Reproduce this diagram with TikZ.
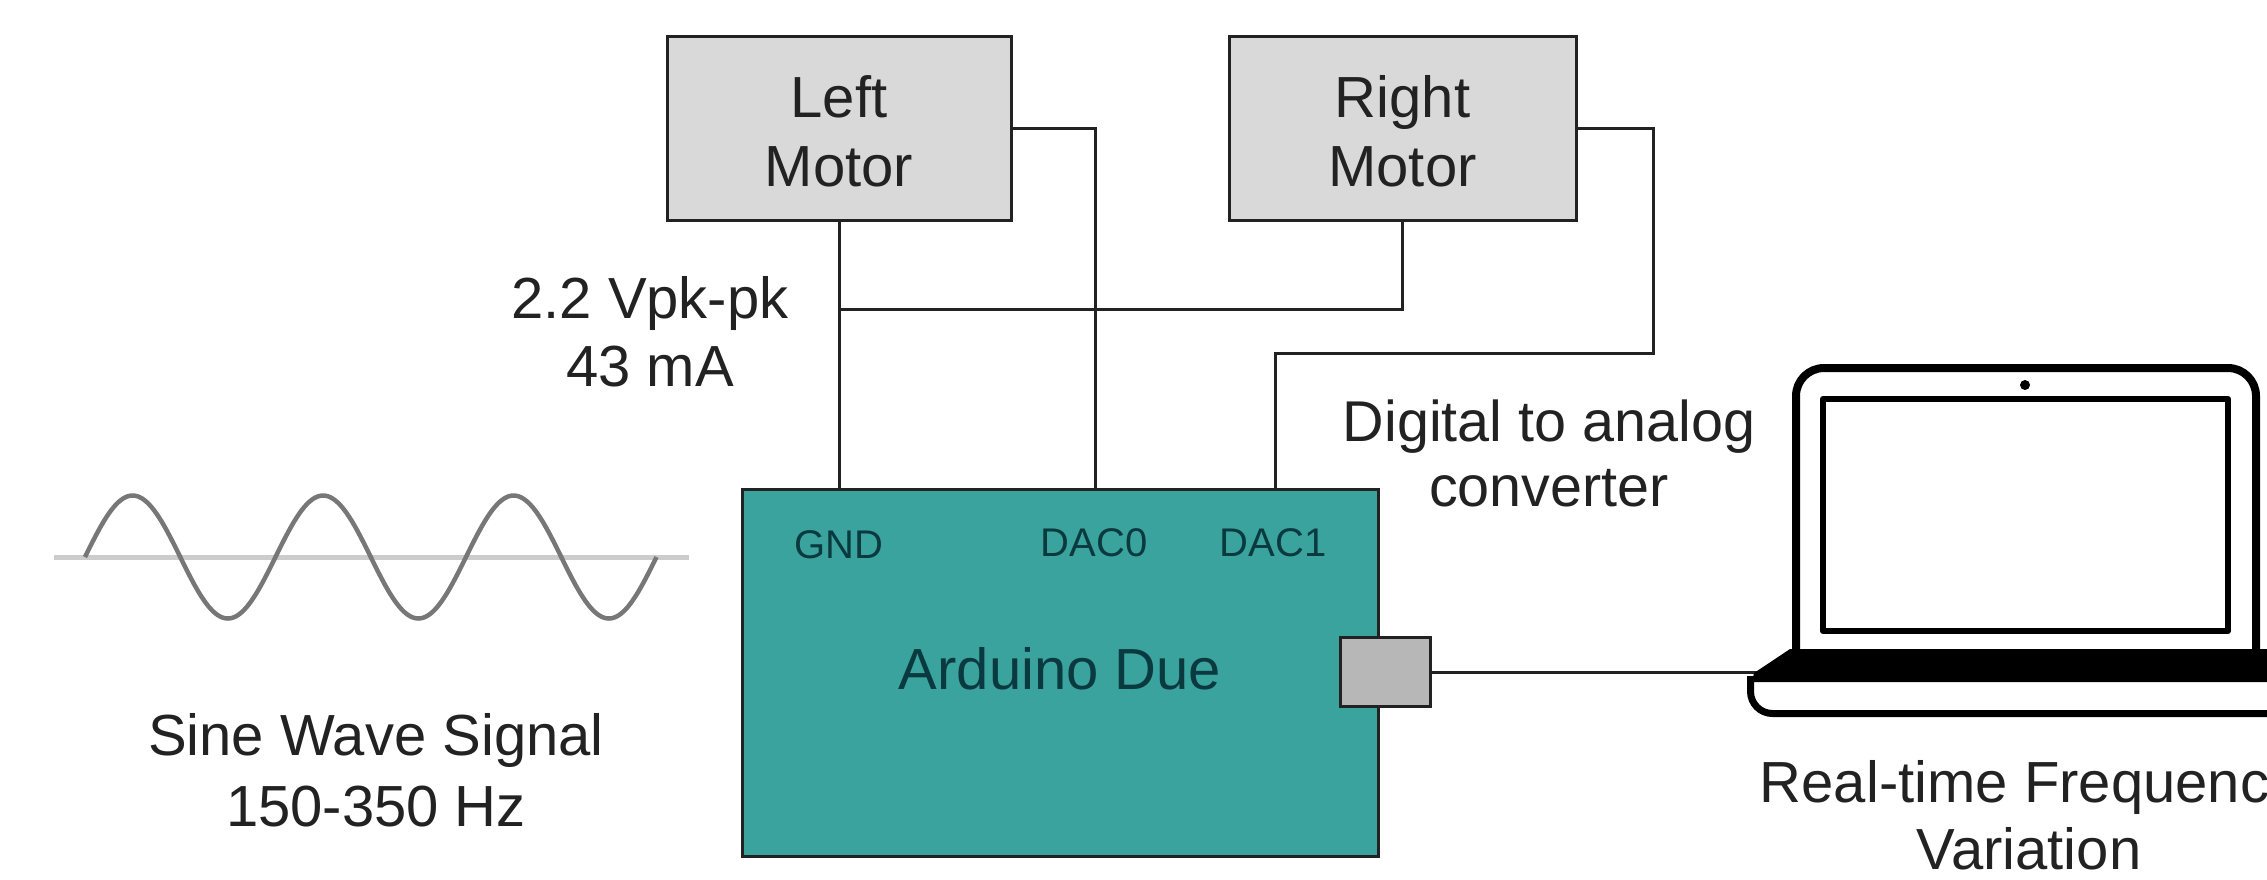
\documentclass[tikz,border=0pt]{standalone}
\usepackage{fontspec}
\setmainfont{Liberation Sans}
\definecolor{teal1}{HTML}{3AA39D}
\definecolor{motorgray}{HTML}{D9D9D9}
\definecolor{usbgray}{HTML}{B7B7B7}
\definecolor{inktext}{HTML}{222222}
\definecolor{pintext}{HTML}{0A3A40}
\definecolor{wavegray}{HTML}{777777}
\definecolor{axisgray}{HTML}{CCCCCC}
\tikzset{
  boxbase/.style={draw=inktext,line width=3pt,inner sep=0pt,align=center,text=inktext},
  motorbox/.style={boxbase,fill=motorgray,minimum height=184pt,font=\fontsize{58}{69}\selectfont,text=inktext},
  lbl/.style={inner sep=0pt,align=center,text=inktext,anchor=center},
  wire/.style={draw=inktext,line width=3pt},
  pin/.style={inner sep=0pt,text=pintext,font=\fontsize{40}{48}\selectfont,anchor=base},
  lapline/.style={draw=black,line join=round}
}
\begin{document}
\begin{tikzpicture}[x=1pt,y=-1pt]
\useasboundingbox (0,0) rectangle (2267,879);
\clip (0,0) rectangle (2267,879);
% wave
\draw[axisgray,line width=5pt] (54,557) -- (689,557);
\draw[wavegray,line width=4.5pt,line join=round] plot[smooth,domain=0:1080,samples=121] ({85+\x/360*190.5},{557-61.5*sin(\x)});
\node[lbl,font=\fontsize{58}{71}\selectfont] (sinelabel) at (376,770) {Sine Wave Signal\\150-350 Hz};
% boxes
\node[motorbox,minimum width=344pt] (lm) at (839,128) {\rule{0pt}{48pt}Left\\Motor};
\node[motorbox,minimum width=347pt] (rm) at (1402.5,128) {\rule{0pt}{48pt}Right\\Motor};
\node[boxbase,fill=teal1,minimum width=636pt,minimum height=367pt] (ard) at (1060,672.5) {};
\node[inner sep=0pt,text=pintext,font=\fontsize{58}{68}\selectfont,anchor=base] (ardlabel) at (1060,689) {Arduino Due};
\node[pin] (gnd) at (839,558) {GND};
\node[pin] (dac0) at (1094,556) {DAC0};
\node[pin] (dac1) at (1273,556) {DAC1};
\node[boxbase,fill=usbgray,minimum width=90pt,minimum height=69pt] (usb) at (1385,672) {};
% named connector ends
\coordinate (pgnd) at (839,489);
\coordinate (pd0) at (1095,489);
\coordinate (pd1) at (1275,489);
\coordinate (jn) at (839,309);
\coordinate (bend) at (1653,353);
\coordinate (lapin) at (1760,672);
% wires
\draw[wire] (lm.south) -- (pgnd);
\draw[wire] (lm.east) -| (pd0);
\draw[wire] (jn) -| (rm.south);
\draw[wire] (rm.east) -| (bend) -| (pd1);
\draw[wire] (usb.east) -- (lapin);
% labels
\node[lbl,font=\fontsize{58}{68}\selectfont] (vlabel) at (650,332) {2.2 Vpk-pk\\43 mA};
\node[lbl,font=\fontsize{57.5}{65}\selectfont] (daclabel) at (1549,453) {Digital to analog\\converter};
\node[lbl,font=\fontsize{58}{67}\selectfont] (rtlabel) at (2029,815) {Real-time Frequency\\Variation};
% laptop
\draw[lapline,line width=8pt,rounded corners=28pt] (1796,655) -- (1796,368) -- (2256,368) -- (2256,655);
\draw[lapline,line width=6pt] (1823,399) rectangle (2228,631);
\fill[black] (2025,385) circle (5pt);
\fill[black] (1790,649) -- (2280,649) -- (2280,682) -- (1752,682) -- (1754,673) -- cycle;
\draw[lapline,line width=7pt,rounded corners=22pt] (1750.5,676) -- (1750.5,713.5) -- (2290,713.5);
\end{tikzpicture}
\end{document}
